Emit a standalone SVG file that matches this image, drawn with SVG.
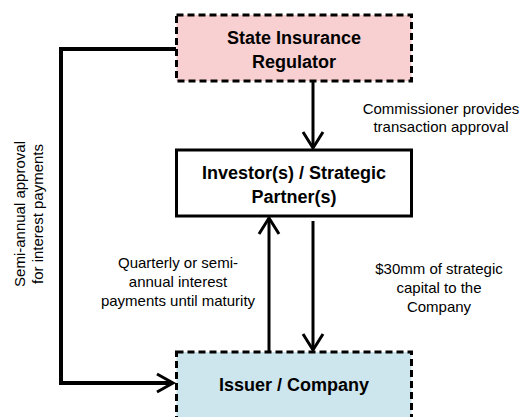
<svg xmlns="http://www.w3.org/2000/svg" width="529" height="417" viewBox="0 0 529 417">
<style>
.box{stroke:#000;stroke-width:3}
.dash{stroke-dasharray:7 4}
.title{font-family:"Liberation Sans",Arial,sans-serif;font-weight:bold;font-size:18px;fill:#000;text-anchor:middle}
.lbl{font-family:"Liberation Sans",Arial,sans-serif;font-size:15px;fill:#000;text-anchor:middle}
.ln{fill:none;stroke:#000;stroke-width:3}
.head{fill:none;stroke:#000;stroke-width:3;stroke-linejoin:miter}
</style>
<rect width="529" height="417" fill="#fff"/>
<g id="connectors">
  <polyline class="ln" points="176,49 61,49 61,383 172,383" style="stroke-width:4"/>
  <polyline class="head" points="157,374 173,383 157,392"/>
  <line class="ln" x1="313" y1="81" x2="313" y2="147"/>
  <polyline class="head" points="303,132 313,148 323,132"/>
  <line class="ln" x1="269" y1="352" x2="269" y2="219"/>
  <polyline class="head" points="259,234 269,218 279,234"/>
  <line class="ln" x1="313" y1="221" x2="313" y2="349"/>
  <polyline class="head" points="303,334 313,350 323,334"/>
</g>
<g id="regulator">
  <rect class="box dash" x="176.5" y="15" width="235" height="66" fill="#f9d0d1"/>
  <text class="title" x="294" y="44">State Insurance</text>
  <text class="title" x="294" y="67.5">Regulator</text>
</g>
<g id="investor">
  <rect class="box" x="176.5" y="150" width="235" height="66" fill="#fff"/>
  <text class="title" x="294" y="179">Investor(s) / Strategic</text>
  <text class="title" x="294" y="203">Partner(s)</text>
</g>
<g id="issuer">
  <rect class="box dash" x="176.5" y="352" width="235" height="70" fill="#cde5ec"/>
  <text class="title" x="294" y="391">Issuer / Company</text>
</g>
<g id="labels">
  <text class="lbl" x="441" y="113.5">Commissioner provides</text>
  <text class="lbl" x="441" y="132">transaction approval</text>
  <text class="lbl" x="178" y="268">Quarterly or semi-</text>
  <text class="lbl" x="178" y="287">annual interest</text>
  <text class="lbl" x="178" y="306">payments until maturity</text>
  <text class="lbl" x="439" y="274">$30mm of strategic</text>
  <text class="lbl" x="439" y="293">capital to the</text>
  <text class="lbl" x="439" y="312">Company</text>
  <g transform="translate(0,214) rotate(-90)">
    <text class="lbl" x="0" y="25">Semi-annual approval</text>
    <text class="lbl" x="0" y="43">for interest payments</text>
  </g>
</g>
</svg>
